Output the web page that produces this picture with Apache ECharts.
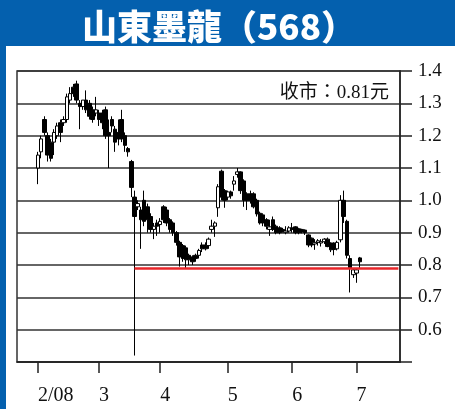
<!DOCTYPE html>
<html>
<head>
<meta charset="utf-8">
<script src="https://cdn.jsdelivr.net/npm/echarts@6/dist/echarts.min.js"></script>
<style>
html,body{margin:0;padding:0;background:#fff;}
#c{width:455px;height:416px;}
</style>
</head>
<body>
<div id="c"></div>
<script>
// ---- data ----
const titleText = '山東墨龍（568）';
const padBefore = ['2008-01-24','2008-01-25','2008-01-28','2008-01-29','2008-01-30','2008-01-31'];
const dates = [
 '2008-02-01','2008-02-04','2008-02-05','2008-02-06','2008-02-11','2008-02-12','2008-02-13','2008-02-14','2008-02-15',
 '2008-02-18','2008-02-19','2008-02-20','2008-02-21','2008-02-22','2008-02-25','2008-02-26','2008-02-27','2008-02-28','2008-02-29',
 '2008-03-03','2008-03-04','2008-03-05','2008-03-06','2008-03-07','2008-03-10','2008-03-11','2008-03-12','2008-03-13','2008-03-14',
 '2008-03-17','2008-03-18','2008-03-19','2008-03-20','2008-03-25','2008-03-26','2008-03-27','2008-03-28','2008-03-31',
 '2008-04-01','2008-04-02','2008-04-03','2008-04-07','2008-04-08','2008-04-09','2008-04-10','2008-04-11','2008-04-14','2008-04-15',
 '2008-04-16','2008-04-17','2008-04-18','2008-04-21','2008-04-22','2008-04-23','2008-04-24','2008-04-25','2008-04-28','2008-04-29','2008-04-30',
 '2008-05-02','2008-05-05','2008-05-06','2008-05-07','2008-05-08','2008-05-09','2008-05-13','2008-05-14','2008-05-15','2008-05-16',
 '2008-05-19','2008-05-20','2008-05-21','2008-05-22','2008-05-23','2008-05-26','2008-05-27','2008-05-28','2008-05-29','2008-05-30',
 '2008-06-02','2008-06-03','2008-06-04','2008-06-05','2008-06-06','2008-06-10','2008-06-11','2008-06-12','2008-06-13',
 '2008-06-16','2008-06-17','2008-06-18','2008-06-19','2008-06-20','2008-06-23','2008-06-24','2008-06-25','2008-06-26','2008-06-27','2008-06-30',
 '2008-07-02','2008-07-03'
];
const padAfter = ['2008-07-04','2008-07-07','2008-07-08','2008-07-09','2008-07-10','2008-07-11','2008-07-14','2008-07-15','2008-07-16','2008-07-17','2008-07-18','2008-07-21'];

const opens = [
 1.10,1.15,1.25,1.20,1.18,1.18,1.20,1.24,1.24,1.25,1.31,1.35,1.36,1.30,1.29,1.31,1.30,1.28,1.27,
 1.27,1.27,1.28,1.21,1.25,1.22,1.21,1.25,1.20,1.16,1.12,1.01,0.98,0.97,1.00,0.98,0.95,0.91,0.93,
 0.925,0.98,0.97,0.94,0.93,0.90,0.87,0.86,0.853,0.83,0.825,0.83,0.83,0.862,0.862,0.86,0.91,0.92,0.977,1.09,1.03,
 1.01,1.026,1.05,1.08,1.088,1.06,1.02,1.02,1.02,1.00,0.96,0.955,0.94,0.91,0.94,0.92,0.915,0.91,0.90,0.905,
 0.915,0.918,0.912,0.91,0.908,0.893,0.883,0.865,0.87,0.868,0.872,0.88,0.868,0.868,0.85,0.878,1.00,0.935,0.82,0.77,
 0.775,0.822
];
const closes = [
 1.14,1.19,1.21,1.14,1.13,1.21,1.23,1.21,1.25,1.32,1.33,1.33,1.31,1.29,1.31,1.28,1.26,1.25,1.28,
 1.25,1.24,1.20,1.20,1.23,1.18,1.19,1.19,1.17,1.15,1.04,0.95,0.99,0.94,0.935,0.94,0.91,0.92,0.92,
 0.935,0.94,0.93,0.91,0.90,0.87,0.825,0.82,0.816,0.816,0.81,0.82,0.845,0.85,0.85,0.88,0.92,0.93,1.042,1.01,1.00,
 1.026,1.014,1.06,1.088,1.03,1.00,1.00,1.00,0.98,0.958,0.93,0.93,0.92,0.918,0.91,0.90,0.90,0.905,0.905,0.915,
 0.91,0.90,0.90,0.902,0.90,0.862,0.862,0.87,0.875,0.872,0.88,0.857,0.847,0.848,0.87,1.00,0.95,0.83,0.79,0.785,
 0.785,0.81
];
const lows = [
 1.05,1.13,1.20,1.12,1.12,1.14,1.19,1.18,1.23,1.24,1.30,1.32,1.30,1.22,1.28,1.27,1.25,1.24,1.26,
 1.23,1.22,1.19,1.10,1.21,1.15,1.17,1.18,1.15,1.135,1.01,0.52,0.97,0.85,0.92,0.90,0.90,0.88,0.89,
 0.90,0.93,0.92,0.90,0.89,0.86,0.795,0.81,0.79,0.80,0.80,0.81,0.82,0.84,0.845,0.85,0.90,0.887,0.949,1.00,0.977,
 1.00,1.005,1.03,1.07,1.02,0.98,0.97,0.99,0.975,0.95,0.925,0.92,0.91,0.89,0.905,0.895,0.895,0.90,0.895,0.90,
 0.90,0.895,0.895,0.898,0.893,0.855,0.855,0.847,0.86,0.857,0.865,0.855,0.84,0.83,0.845,0.87,0.93,0.82,0.715,0.76,
 0.745,0.79
];
const highs = [
 1.15,1.20,1.26,1.21,1.19,1.22,1.24,1.25,1.26,1.33,1.35,1.36,1.37,1.31,1.31,1.34,1.31,1.29,1.32,
 1.28,1.28,1.29,1.25,1.26,1.23,1.25,1.28,1.21,1.165,1.125,1.03,1.00,0.98,1.03,0.99,0.96,0.93,0.94,
 0.945,0.985,0.98,0.945,0.935,0.905,0.875,0.865,0.86,0.835,0.83,0.835,0.85,0.87,0.87,0.885,0.94,0.935,1.05,1.095,1.035,
 1.03,1.03,1.075,1.10,1.09,1.065,1.025,1.03,1.025,1.005,0.965,0.96,0.945,0.94,0.95,0.925,0.92,0.915,0.92,0.92,
 0.93,0.92,0.915,0.912,0.91,0.895,0.885,0.88,0.88,0.88,0.883,0.885,0.87,0.87,0.875,1.016,1.03,0.94,0.83,0.79,
 0.79,0.825
];

const tickDates = ['2008-02-01','2008-03-03','2008-04-01','2008-05-02','2008-06-02','2008-07-02'];
const tickTexts = ['2/08','3','4','5','6','7'];
const yTickLabels = ['0.6','0.7','0.8','0.9','1.0','1.1','1.2','1.3','1.4'];
const supportPrice = 0.79;
const supportFrom = '2008-03-18';
const supportTo = '2008-07-21';

// ---- chart ----
const axisDates = padBefore.concat(dates).concat(padAfter);
const chart = echarts.init(document.getElementById('c'), null, {renderer: 'canvas'});
const lastClose = closes[closes.length - 1];
const isTick = (i, v) => tickDates.indexOf(v) >= 0 || tickDates.indexOf(axisDates[i]) >= 0;

const option = {
  animation: false,
  backgroundColor: '#ffffff',
  graphic: [
    {type: 'rect', z: 0, shape: {x: 0, y: 0, width: 455, height: 46}, style: {fill: '#0460ae'}},
    {type: 'rect', z: 0, shape: {x: 0, y: 0, width: 6, height: 409}, style: {fill: '#0460ae'}},
    {type: 'text', z: 10, style: {text: titleText, x: 219, y: 27, textAlign: 'center', textVerticalAlign: 'middle',
      fill: '#ffffff', font: '900 35px "Noto Sans CJK TC"'}},
    {type: 'text', z: 10, style: {text: '收市：' + lastClose.toFixed(2) + '元', x: 389, y: 93, textAlign: 'right', textVerticalAlign: 'middle',
      fill: '#111111', font: '19px "Liberation Serif", "Noto Sans CJK TC"'}}
  ],
  grid: {left: 17, right: 55, top: 71, bottom: 54, show: true, borderColor: '#333', borderWidth: 1.5, backgroundColor: 'transparent'},
  xAxis: {
    type: 'category', data: axisDates, boundaryGap: true,
    axisLine: {show: true, lineStyle: {color: '#222', width: 1.5}},
    axisTick: {show: true, alignWithLabel: true, length: 11, interval: isTick, lineStyle: {color: '#222', width: 1.5}},
    axisLabel: {show: true, interval: isTick, formatter: v => tickTexts[tickDates.indexOf(v)] || '',
      align: 'left', margin: 24, fontFamily: 'Liberation Serif', fontSize: 20, color: '#111'},
    splitLine: {show: false}
  },
  yAxis: {
    type: 'value', position: 'right', min: 0.5, max: 1.4, interval: 0.1, scale: true,
    axisLine: {show: true, lineStyle: {color: '#222', width: 1.5}},
    axisTick: {show: true, length: 12, lineStyle: {color: '#222', width: 1.5}},
    axisLabel: {formatter: v => { const s = v.toFixed(1); return yTickLabels.indexOf(s) >= 0 ? s : ''; },
      margin: 18, fontFamily: 'Liberation Serif', fontSize: 19, color: '#111', padding: [0, 0, 10, 0]},
    splitLine: {show: true, lineStyle: {color: '#333', width: 1.5}}
  },
  series: [{
    type: 'candlestick',
    data: dates.map((d, i) => [d, opens[i], closes[i], lows[i], highs[i]]),
    encode: {x: 0, y: [1, 2, 3, 4]},
    barWidth: 4,
    itemStyle: {color: '#ffffff', color0: '#000000', borderColor: '#000000', borderColor0: '#000000', borderWidth: 1},
    markLine: {
      symbol: 'none', silent: true, label: {show: false},
      lineStyle: {color: '#e8262a', width: 2.5, type: 'solid'},
      data: [[{coord: [supportFrom, supportPrice]}, {coord: [supportTo, supportPrice]}]]
    }
  }]
};
chart.setOption(option);
</script>
</body>
</html>
